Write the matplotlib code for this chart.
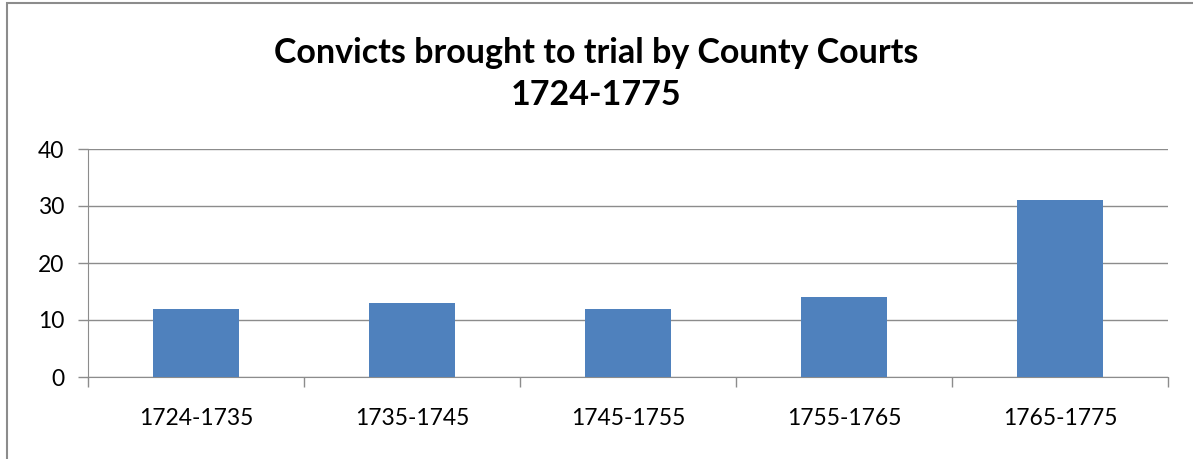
import matplotlib

matplotlib.use("Agg")
import matplotlib.pyplot as plt
from matplotlib.patches import Rectangle

# Data
periods = ["1724-1735", "1735-1745", "1745-1755", "1755-1765", "1765-1775"]
convicts = [12, 13, 12, 14, 31]
y_ticks = [0, 10, 20, 30, 40]

W, H = 1193, 459
plt.rcParams["font.family"] = ["Lato", "DejaVu Sans"]

fig = plt.figure(figsize=(W / 100, H / 100), dpi=100)
ax = fig.add_axes([88 / W, 1 - 377 / H, (1168 - 88) / W, (377 - 149) / H])

# Outer chart border (gray), cut by image edges on right/bottom
fig.patches.append(
    Rectangle(
        (7 / W, -0.05), 1.2, 1 - 3 / H + 0.05,
        transform=fig.transFigure, fill=False, edgecolor="#8c8c8c", linewidth=1.5,
    )
)

x = range(len(periods))
ax.bar(x, convicts, width=0.4, color="#4f81bd", zorder=3)

ax.set_xlim(-0.5, len(periods) - 0.5)
ax.set_ylim(0, 40)
ax.set_yticks(y_ticks)
ax.set_yticklabels([str(v) for v in y_ticks], fontsize=16.5)
ax.set_xticks(list(x))
ax.set_xticklabels(periods, fontsize=16.5)
ax.tick_params(axis="x", length=0, pad=22)
ax.tick_params(axis="y", length=7, color="#8c8c8c", pad=10, width=1)

# Category boundary ticks on x axis
ax.set_xticks([i - 0.5 for i in range(len(periods) + 1)], minor=True)
ax.tick_params(axis="x", which="minor", length=7, color="#8c8c8c", width=1)

ax.grid(axis="y", color="#8c8c8c", linewidth=1, zorder=0)
for side in ["top", "right"]:
    ax.spines[side].set_visible(False)
ax.spines["left"].set_color("#8c8c8c")
ax.spines["bottom"].set_color("#8c8c8c")

fig.text(
    0.5, 1 - 74 / H,
    "Convicts brought to trial by County Courts\n1724-1775",
    ha="center", va="center", fontsize=24.5, fontweight="bold", linespacing=1.42,
)

fig.savefig("out.png", dpi=100)
